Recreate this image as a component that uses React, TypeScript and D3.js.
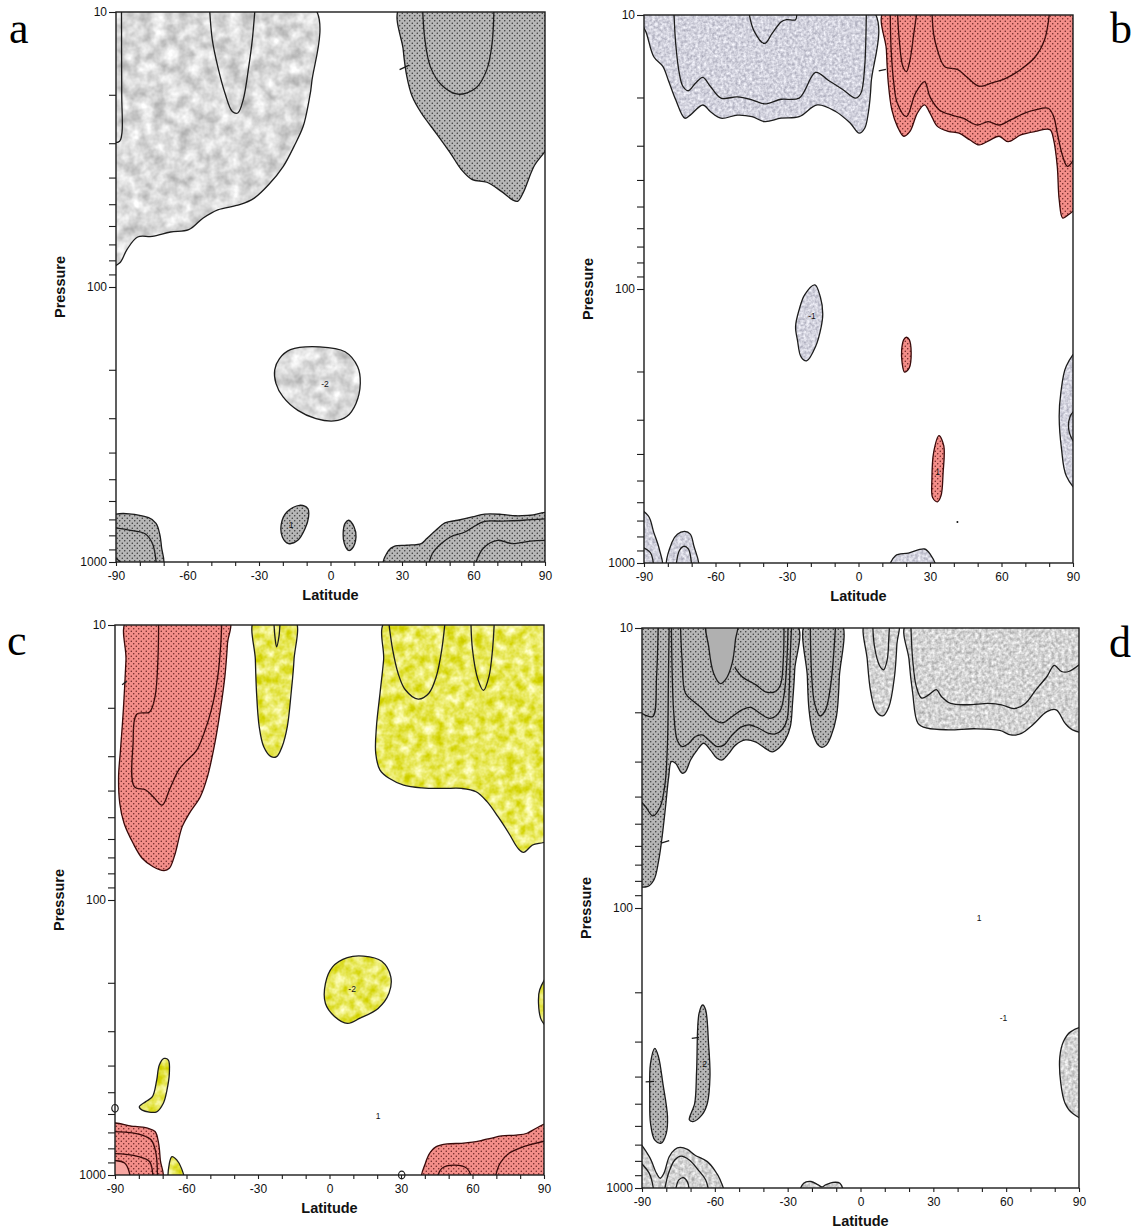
import React, { useEffect, useRef } from 'react';
import * as d3 from 'd3';

// every point is [latitude, pressure in hPa]
type Pt = [number, number];
type Label = [number, number, string];

const latTicks = [-90, -80, -70, -60, -50, -40, -30, -20, -10, 0, 10, 20, 30, 40, 50, 60, 70, 80, 90];
const latLabels = [-90, -60, -30, 0, 30, 60, 90];
const presTicks = [10, 20, 30, 40, 50, 60, 70, 80, 90, 100, 200, 300, 400, 500, 600, 700, 800, 900, 1000];
const presLabels = [10, 100, 1000];

// ---------- panel a ----------
const aLightTop: Pt[] = [[-90, 10], [-7.3, 10], [-7.9, 18.1], [-9.2, 21.4], [-11.5, 26.1], [-15.3, 30.8], [-19.8, 36.4], [-25.9, 42.4], [-32, 47.5], [-38.1, 50.2], [-47.3, 52.4], [-53.4, 56.1], [-59.5, 61.9], [-67.1, 63.1], [-74.8, 65.5], [-80.9, 65.8], [-85.4, 73.1], [-88.5, 81.8], [-90, 84.1]];
const aLightU: Pt[] = [[-50.8, 10], [-49.6, 12.6], [-47.3, 15.8], [-44.3, 19.7], [-41.2, 23], [-38.9, 23.3], [-36.6, 20.8], [-34.3, 15.8], [-32.8, 12.6], [-31.6, 10]];
const aLeftEdge: Pt[] = [[-87.7, 10], [-87.6, 20], [-87.5, 27.5], [-88.5, 29.5], [-90, 30]];
const aDarkTop: Pt[] = [[29.4, 10], [30.5, 13.7], [32, 17.1], [34.3, 20.3], [38.1, 23.3], [44.2, 27.5], [50.3, 32.6], [54.9, 37.4], [59.5, 40.7], [65.6, 41.6], [71.7, 44.9], [76.2, 48.1], [78.5, 48.8], [80.8, 45.5], [85.4, 36.4], [90, 29.1], [90, 10]];
const aDarkU: Pt[] = [[38.6, 10], [39.6, 12.6], [41.9, 15.8], [46.5, 18.4], [53.4, 19.9], [61, 18.9], [65.6, 16.2], [67.8, 13], [68.6, 10]];
const aMark: Pt[] = [[29, 16.2], [33, 15.6]];
const aLightBlob: Pt[] = [[-16.8, 169], [-4.6, 165], [6.1, 172], [11.4, 195], [12.5, 224], [10.7, 265], [6.8, 296], [1.5, 307], [-6.1, 301], [-13.7, 281], [-19.9, 251], [-22.9, 224], [-23.4, 200], [-21.4, 182]];
const aDarkBlob1: Pt[] = [[-13, 622], [-9.5, 640], [-9.2, 685], [-10.7, 757], [-13.7, 834], [-17.6, 857], [-20.2, 811], [-20.6, 724], [-18.3, 658]];
const aDarkBlob2: Pt[] = [[7.6, 705], [9.9, 746], [10.7, 811], [9.1, 893], [7.6, 908], [5.8, 857], [5.3, 789], [6.1, 724]];
const aDarkLL: Pt[] = [[-90, 686], [-76.3, 690], [-73.2, 724], [-71.7, 789], [-70.9, 883], [-70.5, 1000], [-90, 1000]];
const aDarkLLIn1: Pt[] = [[-90, 746], [-83.9, 767], [-77.8, 789], [-74.7, 857], [-72.9, 1000]];
const aDarkLLIn2: Pt[] = [[-90, 925], [-85.4, 1000]];
const aDarkLR: Pt[] = [[22.5, 1000], [24.4, 908], [26.7, 877], [32, 869], [38.1, 857], [40.4, 822], [44.2, 767], [48, 721], [53.4, 705], [59.5, 686], [64.8, 670], [71.7, 671], [77.8, 679], [83.9, 676], [90, 667], [90, 1000]];
const aDarkLRIn1: Pt[] = [[40.8, 1000], [42.7, 933], [46.5, 857], [50.3, 811], [56.4, 778], [64, 714], [71.7, 710], [80.8, 705], [90, 695]];
const aDarkLRIn2: Pt[] = [[60.2, 1000], [64, 893], [70.1, 834], [76.2, 857], [83.9, 839], [90, 834]];
const aLabels: Label[] = [[-2.3, 227, '-2'], [-16.5, 740, '1']];

// ---------- panel b ----------
const bGrayTop: Pt[] = [[-90, 10], [5.6, 10], [5.3, 17.7], [4.1, 22.8], [2.6, 25.9], [0.3, 27], [-3.5, 24.8], [-9.6, 22.5], [-17.3, 21.3], [-24.9, 23.5], [-32.5, 23.8], [-39.4, 24.5], [-44.7, 23.5], [-50.8, 23.2], [-57.7, 23.8], [-62.2, 22.5], [-65.3, 21.3], [-70.6, 23.2], [-72.9, 23.8], [-76.7, 20.4], [-79.8, 17.3], [-82.1, 15.4], [-85.9, 14.2], [-88.9, 11.7]];
const bGrayIn1: Pt[] = [[-77.5, 10], [-76.7, 12.7], [-75.2, 16.3], [-73.7, 18.2], [-71.4, 18.9], [-68.3, 17.7], [-65.3, 16.9], [-62.2, 18.2], [-57.7, 20.1], [-50.8, 19.9], [-44.7, 20.4], [-39.4, 21.1], [-32.5, 20.3], [-24.9, 20.1], [-18, 16.2], [-12.7, 17.3], [-6.6, 18.7], [-1.2, 20.1], [1, 19.3], [2.6, 15.4], [3.3, 10]];
const bGrayIn2: Pt[] = [[-46.2, 10], [-43.9, 11.4], [-39.4, 12.7], [-36.3, 11.7], [-32.5, 10.6], [-30.2, 10.4], [-26.4, 10.4], [-26.1, 10]];
const bRedTop: Pt[] = [[11.1, 10], [11.7, 13.4], [12.5, 17.7], [14, 22.2], [16.3, 25.5], [19, 27.7], [21.6, 26.6], [24.7, 22.8], [27.7, 21.3], [30, 22.8], [33.1, 25.5], [37.6, 26.6], [42.2, 27], [46.8, 28.6], [50.6, 29.8], [55.2, 28.6], [59, 27.7], [62.8, 29], [68.1, 27.4], [74.2, 26.6], [80.3, 26.2], [81.9, 28.6], [83.4, 35.7], [84.2, 47.2], [85.7, 55.1], [88, 53.6], [90, 48.6], [90, 10]];
const bRedIn1: Pt[] = [[13.3, 10], [13.7, 13.4], [14.8, 17.7], [16.3, 21], [20.1, 23.5], [23.9, 19.3], [27.7, 17.5], [30, 19.9], [33.9, 22.2], [39.2, 23.2], [43.8, 23.8], [49.9, 25.2], [54.4, 24.5], [59, 25.2], [63.6, 24.2], [69.7, 22.8], [74.2, 22.2], [79.6, 21.9], [81.9, 23.5], [83.4, 27], [85.7, 32.8], [87.7, 35.7], [90, 31]];
const bRedIn2: Pt[] = [[16.3, 10], [17.1, 12.3], [18.6, 15.4], [20.1, 16.1], [21.6, 14.6], [23.2, 11.7], [24.7, 10]];
const bRedIn3: Pt[] = [[30.8, 10], [31.5, 11.7], [33.1, 13.4], [36.1, 15.4], [41.5, 15.8], [45.3, 16.8], [50.6, 18.2], [56, 17.7], [62, 17], [68.1, 15.8], [74.2, 14.2], [78.1, 12.3], [80.3, 10]];
const bMark: Pt[] = [[8.5, 16], [11.5, 15.8]];
const bGrayBlob: Pt[] = [[-18.3, 96.6], [-16, 107], [-15, 123], [-15.7, 138], [-18, 162], [-21.8, 183], [-24.1, 177], [-25.6, 154], [-26.4, 137], [-24.9, 119], [-22.6, 105]];
const bRedBlob1: Pt[] = [[20.1, 150], [21.3, 153], [22.1, 171], [21.3, 194], [19.3, 201], [18.3, 186], [18.1, 167], [19, 153]];
const bRedBlob2: Pt[] = [[33.8, 343], [35.8, 374], [35.5, 468], [34.6, 569], [33.1, 598], [31.1, 577], [30.8, 495], [31.5, 396]];
const bGrayRight: Pt[] = [[90, 167], [87.2, 191], [84.9, 239], [84.2, 292], [85.2, 385], [87.2, 481], [90, 546]];
const bGrayRightIn: Pt[] = [[90, 268], [88.8, 292], [88.5, 335], [90, 385]];
const bGrayLL: Pt[] = [[-90, 637], [-88.2, 673], [-85.9, 773], [-83.6, 889], [-82.5, 1000], [-90, 1000]];
const bGrayLLIn: Pt[] = [[-90, 865], [-87.4, 914], [-85.9, 1000]];
const bGrayArch: Pt[] = [[-80.1, 1000], [-78.3, 841], [-76, 785], [-72.9, 767], [-70.6, 785], [-69.1, 865], [-67.3, 1000]];
const bGrayArchIn: Pt[] = [[-76.7, 1000], [-75.2, 902], [-73.4, 869], [-71.4, 889], [-69.9, 1000]];
const bGrayBottom: Pt[] = [[13.2, 1000], [15.5, 940], [20.9, 920], [27.7, 889], [30, 927], [32.3, 1000]];
const bLabels: Label[] = [[-19.5, 126, '-1'], [33.2, 470, '1']];
const bDots: Pt[] = [[41.5, 708]];

// ---------- panel c ----------
const cRedTop: Pt[] = [[-84.7, 10], [-85.4, 13.4], [-86.5, 20.4], [-87.7, 28.5], [-88.5, 35.6], [-88, 44.5], [-86.2, 52.6], [-82.4, 62.2], [-78.6, 70.5], [-74, 75.7], [-69.4, 78.2], [-67.2, 76.7], [-64.9, 68.5], [-61.8, 54.1], [-58.8, 48.4], [-54.2, 42.1], [-51.2, 35.6], [-48.1, 26.9], [-45.8, 20.4], [-43.9, 15.4], [-42.8, 11.7], [-42.3, 10]];
const cRedIn: Pt[] = [[-71.7, 10], [-72, 13.4], [-73.2, 18.2], [-75.5, 20.7], [-80.9, 21.1], [-82.4, 26.9], [-81.9, 38.7], [-77.1, 39.8], [-74, 42.1], [-70.2, 45.2], [-67.2, 39.8], [-63.3, 33.7], [-60.3, 31.4], [-55.7, 28.5], [-52.7, 24.8], [-49.6, 20.4], [-46.9, 15.4], [-45.6, 11.7], [-45.2, 10]];
const cMark: Pt[] = [[-87, 16.5], [-85, 16]];
const cYellowNarrow: Pt[] = [[-31.4, 10], [-31.1, 13.4], [-30.6, 17.7], [-29.5, 23.4], [-27.6, 27.7], [-24.5, 30.1], [-22.2, 30.1], [-19.9, 27.7], [-17.7, 23.4], [-16.1, 17.7], [-14.9, 13.4], [-14.6, 10]];
const cYellowNarrowIn: Pt[] = [[-23.4, 10], [-22.9, 11], [-22.2, 12], [-21.2, 11], [-20.7, 10]];
const cYellowBig: Pt[] = [[23.9, 10], [22.7, 13.4], [21.2, 17.7], [19.7, 23.4], [19.4, 29.3], [21.2, 33.7], [25, 36.1], [31.1, 38.2], [38.7, 39.1], [47.8, 39.3], [55.4, 39.3], [61.5, 40.4], [66.1, 43.9], [70.7, 49.8], [75.3, 57.3], [79.1, 64.9], [81.4, 67.1], [85.2, 63.1], [90, 59.7], [90, 10]];
const cYellowIn1: Pt[] = [[24.7, 10], [26.5, 12.3], [28.8, 15], [31.8, 17.2], [37.2, 18.6], [41.7, 17.7], [44.8, 15.4], [47.1, 12.3], [48.6, 10]];
const cYellowIn2: Pt[] = [[59.3, 10], [60, 12.3], [62.3, 15.8], [64.6, 17.3], [66.9, 15.4], [68.4, 12.3], [69.2, 10]];
const cYellowBlob: Pt[] = [[14.3, 160], [21.9, 167], [25.7, 190], [25, 218], [20.4, 248], [12.8, 269], [7.5, 281], [2.1, 265], [-1.7, 238], [-1.7, 201], [1.3, 175], [7.5, 162]];
const cYellowRight: Pt[] = [[90, 185], [88.2, 212], [87.7, 238], [88.9, 273], [90, 293]];
const cYellowSmall: Pt[] = [[-69.4, 377], [-67.6, 382], [-67.2, 427], [-68.2, 491], [-69.7, 548], [-72.5, 589], [-78.6, 581], [-79.8, 565], [-77.1, 541], [-74.3, 519], [-72.5, 452], [-71.4, 398]];
const cRedLL: Pt[] = [[-90, 655], [-83.1, 664], [-76.3, 676], [-73.2, 695], [-71.7, 767], [-71, 881], [-70.2, 1000], [-90, 1000]];
const cRedLLPlain: Pt[] = [[-90, 900], [-86, 905], [-84, 1000], [-90, 1000]];
const cRedLLIn1: Pt[] = [[-90, 695], [-84.7, 700], [-78.6, 716], [-74.8, 746], [-72.8, 834], [-72.2, 1000]];
const cRedLLIn2: Pt[] = [[-90, 834], [-85.4, 841], [-80.1, 857], [-75.5, 893], [-74, 1000]];
const cYellowBottom: Pt[] = [[-67.2, 1000], [-67.2, 908], [-66.1, 857], [-64.1, 881], [-62.1, 946], [-61.1, 1000]];
const cRedLR: Pt[] = [[39, 1000], [40.2, 908], [42.5, 822], [44.8, 789], [49.4, 771], [55.4, 767], [60, 760], [64.6, 746], [67.6, 736], [72.2, 721], [78.3, 716], [82.9, 705], [86.7, 676], [90, 649], [90, 1000]];
const cRedLRIn1: Pt[] = [[44.8, 1000], [47.1, 946], [52.4, 920], [57.7, 946], [60, 1000]];
const cRedLRIn2: Pt[] = [[69.2, 1000], [71.5, 908], [75.3, 834], [81.4, 789], [90, 746]];
const cLabels: Label[] = [[9.5, 212, '-2'], [20.4, 614, '1']];
const cLoops: Pt[] = [[-90, 572], [30.3, 1000]];

// ---------- panel d ----------
const dDarkMain: Pt[] = [[-90, 10], [-26.8, 10], [-27.1, 14.1], [-28, 18.6], [-28.9, 22.5], [-31, 25.1], [-33.7, 26.9], [-36.4, 27.7], [-39.2, 26.9], [-43.3, 25.5], [-47.4, 25.1], [-51.5, 26.2], [-54.3, 28.1], [-57, 29.6], [-59.1, 29.2], [-61.8, 27.3], [-64.6, 25.8], [-67.3, 27.3], [-70, 29.6], [-72.1, 32.6], [-73.5, 33], [-76.2, 30.4], [-77.9, 30], [-79, 34], [-80.3, 43.5], [-81.7, 55.6], [-83.1, 67.5], [-85.1, 79.4], [-87.9, 83.9], [-90, 81.7]];
const dHook: Pt[] = [[-83.3, 10], [-84, 14.9], [-85.5, 20.7], [-88.5, 20.5], [-90, 19.6]];
const dThick: Pt[] = [[-78.8, 10], [-79.1, 14.9], [-79.5, 25.8], [-80.5, 35.9], [-82.5, 43.5], [-85.5, 46.9], [-88.5, 43.5], [-90, 40]];
const dDarkIn1: Pt[] = [[-77.9, 10], [-77.6, 14.1], [-76.9, 20.2], [-75.5, 25.1], [-73.5, 26.5], [-70.7, 25.8], [-68, 24.4], [-65.2, 24.1], [-62.5, 25.1], [-59.1, 26.5], [-56.3, 26.2], [-52.9, 24.1], [-48.8, 22.5], [-45.4, 22.2], [-41.9, 22.8], [-37.8, 23.8], [-35.1, 23.9], [-32.3, 23.1], [-30.3, 21.3], [-29.3, 16.2], [-28.9, 12.3], [-28.3, 10]];
const dDarkIn2: Pt[] = [[-74.2, 10], [-73.5, 13], [-72.1, 17.1], [-68.7, 18.3], [-65.2, 19.4], [-61.1, 21], [-57, 21.8], [-52.9, 20.7], [-48.8, 19.6], [-45.4, 19.2], [-41.3, 20.2], [-37.8, 21], [-35.1, 20.7], [-32.8, 19.5], [-31.3, 16.9], [-30.3, 13], [-29.8, 10]];
const dDarkU: Pt[] = [[-63.2, 10], [-62.5, 11.7], [-60.5, 14.5], [-57.7, 15.8], [-55.6, 15.3], [-52.9, 13.4], [-51.5, 11], [-50.8, 10]];
const dDarkIn3: Pt[] = [[-51.8, 13.8], [-48.9, 14.9], [-42.9, 16], [-39.1, 16.9], [-35.4, 16.9], [-33, 16], [-31.8, 13], [-31.5, 10]];
const dDark2: Pt[] = [[-22.5, 10], [-21.9, 14.9], [-21.2, 19.6], [-19.6, 23.8], [-17.4, 26.2], [-15.9, 26.7], [-14.1, 26.2], [-12.2, 24.4], [-9.9, 20.7], [-8.7, 14.9], [-8.1, 10]];
const dDark2In: Pt[] = [[-20.7, 10], [-20.1, 14.9], [-18.9, 18.6], [-16.7, 20.6], [-14.4, 19.6], [-12.2, 15.8], [-10.2, 10]];
const dMark: Pt[] = [[-81.8, 58.5], [-78.8, 57.5]];
const dLightNarrow: Pt[] = [[2, 10], [2.8, 13], [4.3, 17.1], [6.5, 19.9], [9.2, 20.6], [11.7, 19.1], [14, 14.9], [15, 11.4], [15.5, 10]];
const dLightNarrowIn: Pt[] = [[5, 10], [5.8, 11.7], [8, 13.7], [9.5, 14.1], [11, 13], [11.7, 10.7], [12, 10]];
const dLightBig: Pt[] = [[19.2, 10], [20, 13], [21.5, 17.1], [23.7, 21.9], [27.5, 22.8], [36.4, 23.1], [46.9, 22.9], [57.4, 23.2], [61.9, 24.1], [66.3, 23.8], [70.9, 22.2], [76.8, 19.9], [80.6, 19.6], [84.3, 21.9], [87.3, 23.1], [90, 23.4], [90, 10]];
const dLightBigIn: Pt[] = [[20.7, 10], [21.5, 13], [23, 16.2], [25.2, 17.8], [28.2, 17.3], [31.2, 16.6], [33.4, 17.6], [37.2, 18.6], [43.9, 18.8], [52.9, 18.6], [58.1, 18.8], [63.4, 19.4], [67.9, 18.6], [72.3, 16.6], [76.8, 14.9], [79.8, 13.6], [82.8, 14.3], [85.8, 14.3], [90, 13]];
const dDarkBlob1: Pt[] = [[-84.7, 317], [-83.2, 340], [-81.4, 423], [-79.5, 556], [-80, 638], [-82.1, 692], [-84.7, 675], [-86.5, 587], [-86.8, 472], [-86.5, 359]];
const dMark1: Pt[] = [[-88.5, 418], [-85, 416]];
const dDarkBlob2: Pt[] = [[-65, 222], [-63.8, 231], [-62.6, 304], [-62, 400], [-63.1, 499], [-65.3, 548], [-69, 579], [-70.5, 571], [-68.3, 499], [-67.5, 379], [-66.5, 238]];
const dMark2: Pt[] = [[-69.5, 292], [-66.5, 290]];
const dLightLL: Pt[] = [[-90, 675], [-87, 773], [-84, 887], [-82.5, 923], [-81, 887], [-78.8, 773], [-76.5, 728], [-74.3, 716], [-71.3, 728], [-68.3, 762], [-63.1, 805], [-60.1, 863], [-57.8, 935], [-56.6, 1000], [-90, 1000]];
const dLightLLIn1: Pt[] = [[-90, 783], [-87, 887], [-85, 1000]];
const dLightLLIn2: Pt[] = [[-81, 1000], [-79.1, 887], [-76.5, 794], [-74, 769], [-70.5, 794], [-66.8, 863], [-63.8, 935], [-62.3, 1000]];
const dLightLLIn3: Pt[] = [[-76.5, 1000], [-74.8, 935], [-72.9, 918], [-71.3, 951], [-70.3, 1000]];
const dBumps: Pt[] = [[-24.9, 1000], [-23.4, 962], [-20.4, 948], [-17.4, 975], [-15.9, 991], [-14.4, 975], [-11.4, 955], [-8.5, 962], [-7.3, 1000]];
const dLightRight: Pt[] = [[90, 269], [86.5, 277], [83.6, 300], [82.1, 340], [82.5, 423], [84.3, 499], [87.3, 541], [90, 564]];
const dLabels: Label[] = [[-64.2, 363, '2'], [48.9, 109, '1'], [58.9, 248, '-1']];

type Layer = { pts: Pt[]; fill?: string; filter?: string; ink?: string };
type PanelSpec = {
  id: string;
  x0: number; x1: number; y0: number; y1: number;
  letter: [number, number];
  layers: Layer[];
  labels: Label[];
  dots?: Pt[];
  loops?: Pt[];
};

const INK = '#1c1c1c';
const RED_INK = '#3a0a0a';
const SANS = '"Liberation Sans", Arial, Helvetica, sans-serif';

const DOTS = 'url(#darkDots)';
const red = { fill: 'url(#redDots)', ink: RED_INK };
const mottle = (id: string) => ({ fill: '#cccccc', filter: `url(#${id})` });

const panels: PanelSpec[] = [
  {
    id: 'a', x0: 116, x1: 545, y0: 12, y1: 562, letter: [9, 43],
    layers: [
      { pts: aLightTop, ...mottle('mottleA') }, { pts: aLightU }, { pts: aLeftEdge },
      { pts: aDarkTop, fill: DOTS }, { pts: aDarkU }, { pts: aMark },
      { pts: aLightBlob, ...mottle('mottleA') },
      { pts: aDarkBlob1, fill: DOTS }, { pts: aDarkBlob2, fill: DOTS },
      { pts: aDarkLL, fill: DOTS }, { pts: aDarkLLIn1 }, { pts: aDarkLLIn2 },
      { pts: aDarkLR, fill: DOTS }, { pts: aDarkLRIn1 }, { pts: aDarkLRIn2 },
    ],
    labels: aLabels,
  },
  {
    id: 'b', x0: 644, x1: 1073, y0: 15, y1: 563, letter: [1110, 43],
    layers: [
      { pts: bGrayTop, ...mottle('mottleB') }, { pts: bGrayIn1 }, { pts: bGrayIn2 },
      { pts: bRedTop, ...red }, { pts: bRedIn1, ink: RED_INK }, { pts: bRedIn2, ink: RED_INK },
      { pts: bRedIn3, ink: RED_INK }, { pts: bMark },
      { pts: bGrayBlob, ...mottle('mottleB') },
      { pts: bRedBlob1, ...red }, { pts: bRedBlob2, ...red },
      { pts: bGrayRight, ...mottle('mottleB') }, { pts: bGrayRightIn },
      { pts: bGrayLL, ...mottle('mottleB') }, { pts: bGrayLLIn },
      { pts: bGrayArch, ...mottle('mottleB') }, { pts: bGrayArchIn },
      { pts: bGrayBottom, ...mottle('mottleB') },
    ],
    labels: bLabels,
    dots: bDots,
  },
  {
    id: 'c', x0: 115, x1: 544, y0: 625, y1: 1175, letter: [7, 655],
    layers: [
      { pts: cRedTop, ...red }, { pts: cRedIn, ink: RED_INK }, { pts: cMark },
      { pts: cYellowNarrow, ...mottle('mottleY') }, { pts: cYellowNarrowIn },
      { pts: cYellowBig, ...mottle('mottleY') }, { pts: cYellowIn1 }, { pts: cYellowIn2 },
      { pts: cYellowBlob, ...mottle('mottleY') },
      { pts: cYellowRight, ...mottle('mottleY') },
      { pts: cYellowSmall, ...mottle('mottleY') },
      { pts: cRedLL, ...red }, { pts: cRedLLPlain, fill: '#f7a7a2', ink: RED_INK },
      { pts: cRedLLIn1, ink: RED_INK }, { pts: cRedLLIn2, ink: RED_INK },
      { pts: cYellowBottom, ...mottle('mottleY') },
      { pts: cRedLR, ...red }, { pts: cRedLRIn1, ink: RED_INK }, { pts: cRedLRIn2, ink: RED_INK },
    ],
    labels: cLabels,
    loops: cLoops,
  },
  {
    id: 'd', x0: 642, x1: 1079, y0: 628, y1: 1188, letter: [1109, 657],
    layers: [
      { pts: dDarkMain, fill: DOTS }, { pts: dHook }, { pts: dThick }, { pts: dDarkIn1 }, { pts: dDarkIn2 },
      { pts: dDarkU, fill: '#b0b0b0' }, { pts: dDarkIn3 }, { pts: dMark },
      { pts: dDark2, fill: DOTS }, { pts: dDark2In },
      { pts: dLightNarrow, ...mottle('mottleD') }, { pts: dLightNarrowIn },
      { pts: dLightBig, ...mottle('mottleD') }, { pts: dLightBigIn },
      { pts: dDarkBlob1, fill: DOTS }, { pts: dMark1 },
      { pts: dDarkBlob2, fill: DOTS }, { pts: dMark2 },
      { pts: dLightLL, ...mottle('mottleD') }, { pts: dLightLLIn1 }, { pts: dLightLLIn2 }, { pts: dLightLLIn3 },
      { pts: dBumps, ...mottle('mottleD') },
      { pts: dLightRight, ...mottle('mottleD') },
    ],
    labels: dLabels,
  },
];

function Panel({ spec }: { spec: PanelSpec }) {
  const xAxisRef = useRef<SVGGElement>(null);
  const yAxisRef = useRef<SVGGElement>(null);
  const w = spec.x1 - spec.x0;
  const h = spec.y1 - spec.y0;
  const x = d3.scaleLinear().domain([-90, 90]).range([0, w]);
  const y = d3.scaleLog().domain([10, 1000]).range([0, h]);

  // points lying on the frame are pushed just outside it, the clip trims them
  const px = (v: number) => (v <= -90 ? -6 : v >= 90 ? w + 6 : x(v));
  const py = (v: number) => (v <= 10 ? -6 : v >= 1000 ? h + 6 : y(v));
  const area = d3.line<Pt>().x((d) => px(d[0])).y((d) => py(d[1])).curve(d3.curveCatmullRomClosed.alpha(0.5));
  const line = d3.line<Pt>().x((d) => px(d[0])).y((d) => py(d[1])).curve(d3.curveCatmullRom.alpha(0.5));

  useEffect(() => {
    const xAxis = d3.axisBottom(x).tickValues(latTicks).tickSize(4).tickSizeOuter(0).tickPadding(5)
      .tickFormat((d) => (latLabels.includes(+d) ? String(d) : ''));
    const yAxis = d3.axisLeft(y).tickValues(presTicks).tickSize(7).tickSizeOuter(0).tickPadding(2)
      .tickFormat((d) => (presLabels.includes(+d) ? String(d) : ''));
    const gx = d3.select(xAxisRef.current).call(xAxis);
    const gy = d3.select(yAxisRef.current).call(yAxis);
    [gx, gy].forEach((g) => {
      g.attr('font-family', SANS).attr('font-size', 12);
      g.select('.domain').remove();
      g.selectAll('line').attr('stroke', INK).attr('stroke-width', 1.1);
      g.selectAll('text').attr('fill', '#111');
    });
  }, []);

  return (
    <g>
      <g transform={`translate(${spec.x0},${spec.y0})`}>
        <defs>
          <clipPath id={`clip-${spec.id}`}>
            <rect width={w} height={h} />
          </clipPath>
        </defs>
        <g clipPath={`url(#clip-${spec.id})`}>
          {spec.layers.map((l, i) =>
            l.fill ? (
              <g key={i}>
                <path d={area(l.pts) || ''} fill={l.fill} filter={l.filter} />
                <path d={area(l.pts) || ''} fill="none" stroke={l.ink || INK} strokeWidth={1.3} />
              </g>
            ) : (
              <path key={i} d={line(l.pts) || ''} fill="none" stroke={l.ink || INK} strokeWidth={1.3} />
            )
          )}
          {spec.labels.map(([lat, p, t], i) => (
            <text key={`l${i}`} x={x(lat)} y={y(p)} fontFamily={SANS} fontSize={8.5} fill="#111"
              textAnchor="middle" dominantBaseline="middle">{t}</text>
          ))}
          {(spec.dots || []).map(([lat, p], i) => (
            <circle key={`d${i}`} cx={x(lat)} cy={y(p)} r={1} fill="#111" />
          ))}
        </g>
        {(spec.loops || []).map(([lat, p], i) => (
          <ellipse key={`o${i}`} cx={x(lat)} cy={y(p)} rx={3.2} ry={3.8} fill="#fff" stroke={INK} strokeWidth={1.2} />
        ))}
        <rect width={w} height={h} fill="none" stroke={INK} strokeWidth={1.4} />
        <g ref={xAxisRef} transform={`translate(0,${h})`} />
        <g ref={yAxisRef} />
        <text x={w / 2} y={h + 38} textAnchor="middle" fontFamily={SANS} fontWeight="bold" fontSize={14.5} fill="#111">
          Latitude
        </text>
        <text transform={`translate(-51,${h / 2}) rotate(-90)`} textAnchor="middle" fontFamily={SANS}
          fontWeight="bold" fontSize={14.5} fill="#111">
          Pressure
        </text>
      </g>
      <text x={spec.letter[0]} y={spec.letter[1]} fontFamily='"Liberation Serif", "Times New Roman", serif'
        fontSize={44} fill="#000">
        {spec.id}
      </text>
    </g>
  );
}

const mottleFilter = (id: string, freq: number, octaves: number, matrix: string) => (
  <filter id={id} colorInterpolationFilters="sRGB">
    <feTurbulence type="fractalNoise" baseFrequency={freq} numOctaves={octaves} seed={4} result="n" />
    <feColorMatrix in="n" type="matrix" values={matrix} result="c" />
    <feComposite in="c" in2="SourceGraphic" operator="in" />
  </filter>
);

export default function App() {
  return (
    <svg width={1134} height={1231} style={{ position: 'absolute', left: 0, top: 0, background: '#fff' }}>
      <defs>
        <pattern id="darkDots" width={5} height={5} patternUnits="userSpaceOnUse">
          <rect width={5} height={5} fill="#b6b6b6" />
          <circle cx={1.25} cy={1.25} r={0.7} fill="#2a2a2a" />
          <circle cx={3.75} cy={3.75} r={0.7} fill="#2a2a2a" />
        </pattern>
        <pattern id="redDots" width={5} height={5} patternUnits="userSpaceOnUse">
          <rect width={5} height={5} fill="#f48e89" />
          <circle cx={1.25} cy={1.25} r={0.7} fill="#5a1818" />
          <circle cx={3.75} cy={3.75} r={0.7} fill="#5a1818" />
        </pattern>
        {mottleFilter('mottleA', 0.08, 3, '0.45 0 0 0 0.63  0.45 0 0 0 0.63  0.45 0 0 0 0.63  0 0 0 0 1')}
        {mottleFilter('mottleB', 0.35, 2, '0.45 0 0 0 0.6  0.45 0 0 0 0.6  0.4 0 0 0 0.67  0 0 0 0 1')}
        {mottleFilter('mottleD', 0.3, 2, '0.5 0 0 0 0.58  0.5 0 0 0 0.58  0.5 0 0 0 0.58  0 0 0 0 1')}
        {mottleFilter('mottleY', 0.1, 3, '0.3 0 0 0 0.76  0.3 0 0 0 0.76  1.3 0 0 0 -0.28  0 0 0 0 1')}
      </defs>
      {panels.map((p) => (
        <Panel key={p.id} spec={p} />
      ))}
    </svg>
  );
}
